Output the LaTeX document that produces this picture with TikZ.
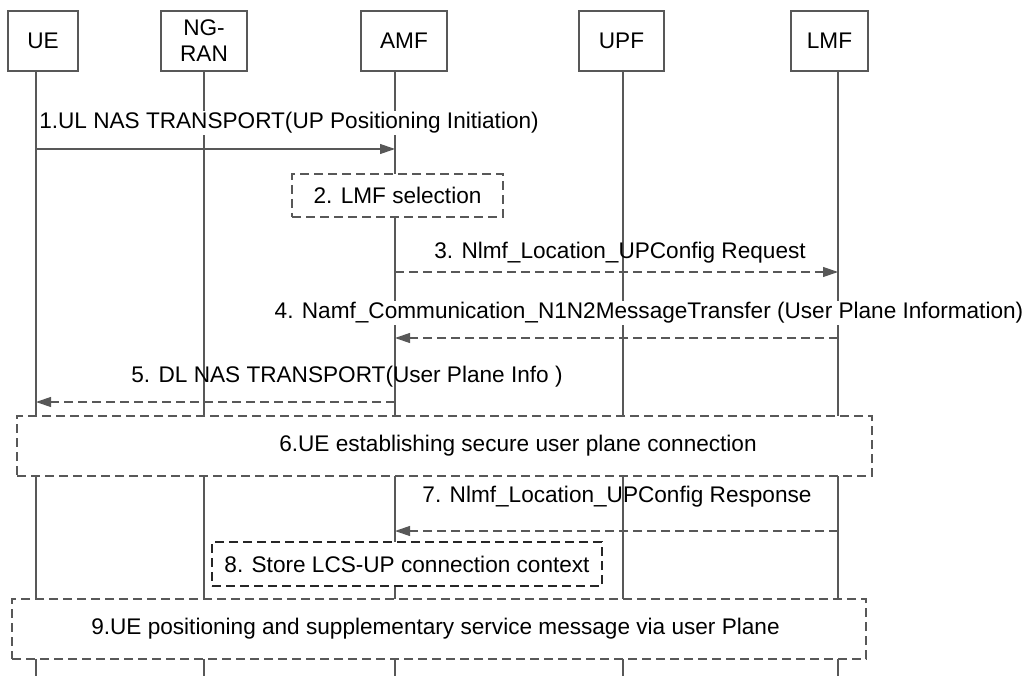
\documentclass[tikz,border=0pt]{standalone}
\usepackage{fontspec}
\setmainfont{Liberation Sans}
\usepackage{xcolor}
\definecolor{wire}{RGB}{88,88,88}
\usetikzlibrary{arrows.meta}
\tikzset{
  actor/.style={draw=wire,line width=1.2pt,fill=white,inner sep=0pt,%
    align=center,minimum height=60pt},
  life/.style={draw=wire,line width=1.2pt},
  msg/.style={-{Triangle[length=15pt,width=10pt]},line width=1.2pt,draw=wire},
  reply/.style={msg,dash pattern=on 9pt off 5pt},
  stepbox/.style={draw=wire,line width=1.2pt,dash pattern=on 9pt off 5pt,%
    fill=white,inner sep=0pt,align=center},
  lbl/.style={inner sep=1pt},
}

\begin{document}
\begin{tikzpicture}[x=1pt,y=-1pt,
  every node/.style={font=\fontsize{22.6}{26}\selectfont}]
\useasboundingbox (0,0) rectangle (1032,676);
% entities
\node[actor,minimum width=70pt] (ue) at (43,41) {UE};
\node[actor,minimum width=86pt] (ran) at (204,41) {NG-\\RAN};
\node[actor,minimum width=86pt] (amf) at (404,41) {AMF};
\node[actor,minimum width=85pt] (upf) at (621.5,41) {UPF};
\node[actor,minimum width=77pt] (lmf) at (829.5,41) {LMF};
% lifelines
\coordinate (lue) at (36,676);
\coordinate (lran) at (204,676);
\coordinate (lamf) at (395,676);
\coordinate (lupf) at (623,676);
\coordinate (llmf) at (838,676);
\foreach \a/\l in {ue/lue,ran/lran,amf/lamf,upf/lupf,lmf/llmf}
  \draw[life] (\l |- \a.south) -- (\l);
% message rows
\coordinate (m1) at (0,149);
\coordinate (m3) at (0,272);
\coordinate (m4) at (0,338);
\coordinate (m5) at (0,402);
\coordinate (m7) at (0,531);

\node[lbl,fill=white] (t1) at (289,123) {1.UL NAS TRANSPORT(UP Positioning Initiation)};
\draw[msg] (lue |- m1) -- (lamf |- m1);

\node[stepbox,minimum width=211pt,minimum height=43pt] (s2) at (397.5,195.5) {2. LMF selection};

\node[lbl] (t3) at (620,253) {3. Nlmf\_Location\_UPConfig Request};
\draw[reply] (lamf |- m3) -- (llmf |- m3);

\node[lbl,fill=white] (t4) at (649,313) {4. Namf\_Communication\_N1N2MessageTransfer (User Plane Information)};
\draw[reply] (llmf |- m4) -- (lamf |- m4);

\node[lbl] (t5) at (347,377) {5. DL NAS TRANSPORT(User Plane Info )};
\draw[reply] (lamf |- m5) -- (lue |- m5);

\node[stepbox,minimum width=855pt,minimum height=60pt] (s6) at (444.5,446) {};
\node[lbl] (t6) at (518,446) {6.UE establishing secure user plane connection};

\node[lbl] (t7) at (617,497) {7. Nlmf\_Location\_UPConfig Response};
\draw[reply] (llmf |- m7) -- (lamf |- m7);

\node[stepbox,draw=black!85,minimum width=390pt,minimum height=44pt] (s8) at (407,564)
  {8. Store LCS-UP connection context};

\node[stepbox,minimum width=854pt,minimum height=60pt] (s9) at (439,629) {};
\node[lbl] (t9) at (435.5,629) {9.UE positioning and supplementary service message via user Plane};
\end{tikzpicture}
\end{document}
